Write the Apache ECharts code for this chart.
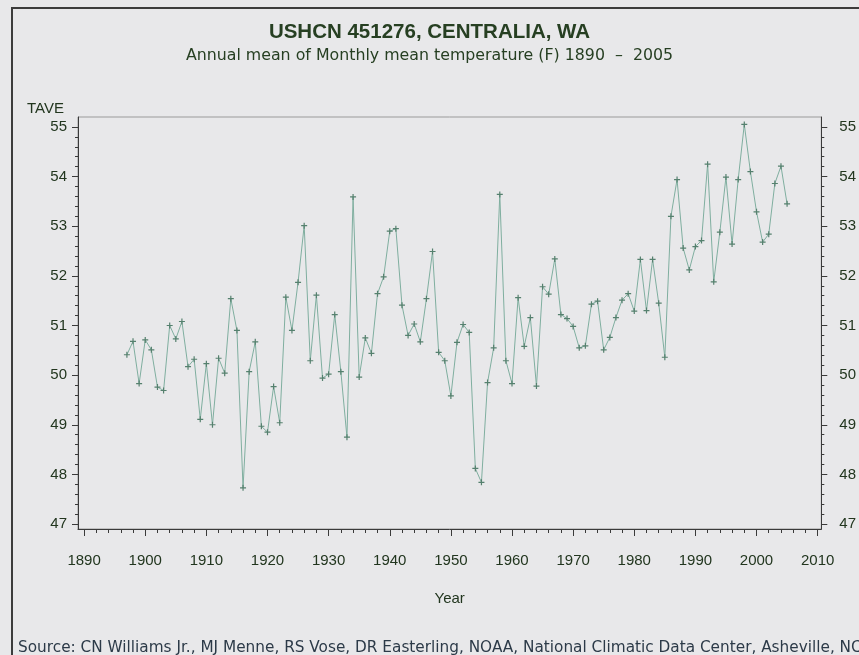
<!DOCTYPE html>
<html>
<head>
<meta charset="utf-8">
<script src="https://cdn.jsdelivr.net/npm/echarts@6/dist/echarts.min.js"></script>
<style>
  html, body { margin: 0; padding: 0; background: #e8e8ea; }
  #chart { width: 859px; height: 655px; }
  #frame {
    position: absolute; left: 11px; top: 7px; width: 900px; height: 700px;
    border: 2px solid #3c3c3c; pointer-events: none;
  }
</style>
</head>
<body>
<div id="chart"></div>
<div id="frame"></div>
<script>
// annual mean temperature (F), one value per year from startYear
const startYear = 1897
const tave = [
  50.41, 50.68, 49.83, 50.71, 50.51, 49.76, 49.69, 51.00, 50.73, 51.08,
  50.17, 50.32, 49.11, 50.23, 49.00, 50.34, 50.04, 51.54, 50.90, 47.73,
  50.07, 50.67, 48.97, 48.85, 49.77, 49.04, 51.57, 50.90, 51.87, 53.01,
  50.29, 51.61, 49.94, 50.02, 51.22, 50.07, 48.75, 53.59, 49.96, 50.75,
  50.44, 51.64, 51.98, 52.90, 52.95, 51.41, 50.80, 51.03, 50.67, 51.54,
  52.49, 50.46, 50.29, 49.58, 50.66, 51.02, 50.86, 48.12, 47.84, 49.85,
  50.55, 53.64, 50.29, 49.83, 51.56, 50.58, 51.16, 49.78, 51.78, 51.63,
  52.34, 51.22, 51.14, 50.98, 50.55, 50.59, 51.43, 51.49, 50.51, 50.76,
  51.16, 51.51, 51.64, 51.29, 52.33, 51.30, 52.33, 51.45, 50.36, 53.20,
  53.94, 52.56, 52.12, 52.59, 52.71, 54.25, 51.88, 52.88, 53.99, 52.64,
  53.94, 55.05, 54.10, 53.29, 52.68, 52.84, 53.86, 54.21, 53.45
]
const xTicks = [1890, 1900, 1910, 1920, 1930, 1940, 1950, 1960, 1970, 1980, 1990, 2000, 2010]
const yTicks = [47, 48, 49, 50, 51, 52, 53, 54, 55]

const xMinor = []
for (let y = 1890; y <= 2010; y += 2) if (y % 10) xMinor.push(y)
const yMinor = []
for (let v = 47; v < 55; v += 0.2) if (Math.abs(v - Math.round(v)) > 0.01) yMinor.push(+v.toFixed(1))

const points = tave.map((v, i) => [startYear + i, v])

const FONT = "'Liberation Sans', Arial, sans-serif"
const WIDE = "'DejaVu Sans', 'Liberation Sans', sans-serif"
const INK = '#22361f'
const AXIS = '#3a3a3a'
const xRange = { min: 1889, max: 2010.6 }
const yRange = { min: 46.9, max: 55.2 }

const chart = echarts.init(document.getElementById('chart'), null, { renderer: 'canvas' })

const lbl = { fontFamily: FONT, fontSize: 15, color: INK }

chart.setOption({
  backgroundColor: 'transparent',
  animation: false,
  title: [
    { text: 'USHCN 451276, CENTRALIA, WA', left: 'center', top: 17,
      textStyle: { fontFamily: FONT, fontSize: 20.5, fontWeight: 'bold', color: '#263f22' } },
    { text: 'Annual mean of Monthly mean temperature (F) 1890  \u2013  2005', left: 'center', top: 43,
      textStyle: { fontFamily: WIDE, fontSize: 15.8, fontWeight: 'normal', color: '#263f22' } },
    { text: 'TAVE', left: 22, top: 96,
      textStyle: { fontFamily: FONT, fontSize: 15, fontWeight: 'normal', color: INK } },
    { text: 'Source: CN Williams Jr., MJ Menne, RS Vose, DR Easterling, NOAA, National Climatic Data Center, Asheville, NC',
      left: 13, top: 636,
      textStyle: { fontFamily: WIDE, fontSize: 15.3, fontWeight: 'normal', color: '#2c3a48' } }
  ],
  grid: {
    left: 78, right: 36, top: 117, bottom: 126,
    show: true, borderColor: '#9a9a9a', borderWidth: 1, backgroundColor: 'transparent'
  },
  xAxis: [
    {
      type: 'value', ...xRange, position: 'bottom',
      name: 'Year', nameLocation: 'middle', nameGap: 62,
      nameTextStyle: { ...lbl },
      axisLine: { show: true, lineStyle: { color: AXIS, width: 1 } },
      axisTick: { show: true, customValues: xTicks, length: 7, lineStyle: { color: AXIS } },
      axisLabel: { customValues: xTicks, margin: 24, formatter: v => String(v), ...lbl },
      splitLine: { show: false }
    },
    {
      type: 'value', ...xRange, position: 'bottom',
      axisLine: { show: false },
      axisTick: { show: true, customValues: xMinor, length: 4, lineStyle: { color: AXIS } },
      axisLabel: { show: false },
      splitLine: { show: false }
    }
  ],
  yAxis: [
    {
      type: 'value', ...yRange, position: 'left',
      axisLine: { show: true, lineStyle: { color: AXIS, width: 1 } },
      axisTick: { show: true, customValues: yTicks, length: 6, lineStyle: { color: AXIS } },
      axisLabel: { customValues: yTicks, margin: 11, ...lbl },
      splitLine: { show: false }
    },
    {
      type: 'value', ...yRange, position: 'left',
      axisLine: { show: false },
      axisTick: { show: true, customValues: yMinor, length: 3, lineStyle: { color: AXIS } },
      axisLabel: { show: false },
      splitLine: { show: false }
    },
    {
      type: 'value', ...yRange, position: 'right',
      axisLine: { show: true, lineStyle: { color: AXIS, width: 1 } },
      axisTick: { show: true, customValues: yTicks, length: 6, lineStyle: { color: AXIS } },
      axisLabel: { customValues: yTicks, margin: 18, ...lbl },
      splitLine: { show: false }
    },
    {
      type: 'value', ...yRange, position: 'right',
      axisLine: { show: false },
      axisTick: { show: true, customValues: yMinor, length: 3, lineStyle: { color: AXIS } },
      axisLabel: { show: false },
      splitLine: { show: false }
    }
  ],
  series: [
    {
      type: 'line',
      xAxisIndex: 0,
      yAxisIndex: 0,
      data: points,
      lineStyle: { color: '#7fae9f', width: 1 },
      symbol: 'path://M4,0H6V4H10V6H6V10H4V6H0V4H4Z',
      symbolSize: 6,
      itemStyle: { color: '#55806e' }
    }
  ]
})
</script>
</body>
</html>
